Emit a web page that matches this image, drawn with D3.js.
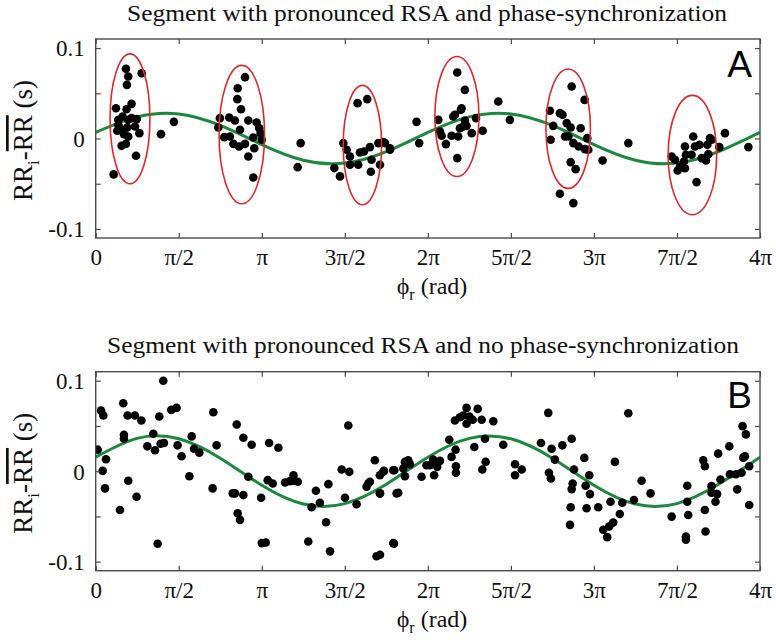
<!DOCTYPE html>
<html>
<head>
<meta charset="utf-8">
<script src="https://cdn.jsdelivr.net/npm/d3@7/dist/d3.min.js"></script>
<style>
  html, body { margin: 0; padding: 0; background: #fff; }
  svg { display: block; }
</style>
</head>
<body>
<svg id="chart" width="776" height="640"></svg>
<script>
// ---------- data (phase in units of pi, RR deviation in s) ----------
const titles = ["Segment with pronounced RSA and phase-synchronization",
                "Segment with pronounced RSA and no phase-synchronization"];
const panelLetters = ["A", "B"];
const xTickValues = [0, 0.5, 1, 1.5, 2, 2.5, 3, 3.5, 4];
const xTickLabels = ["0", "\u03c0/2", "\u03c0", "3\u03c0/2", "2\u03c0", "5\u03c0/2", "3\u03c0", "7\u03c0/2", "4\u03c0"];
const yTickValues = [-0.1, -0.05, 0, 0.05, 0.1];
const yTickLabels = ["-0.1", "", "0", "", "0.1"];

const phaseA = [0.108,0.122,0.182,0.196,0.188,0.277,0.136,0.162,0.186,0.216,0.130,0.146,0.196,0.216,0.247,0.237,0.190,0.170,0.196,0.156,0.182,0.263,0.243,0.136,0.393,0.471,
  0.738,0.748,0.804,0.838,0.855,0.853,0.875,0.899,0.919,0.969,0.985,0.993,0.949,0.899,0.863,0.829,0.808,0.774,0.919,0.949,0.955,1.000,0.869,1.216,1.234,
  1.437,1.471,1.491,1.511,1.531,1.531,1.581,1.577,1.635,1.591,1.615,1.651,1.661,1.657,1.702,1.712,1.742,1.772,1.732,1.772,1.932,1.948,
  2.063,2.073,2.083,2.109,2.143,2.153,2.163,2.177,2.177,2.183,2.193,2.199,2.203,2.213,2.223,2.223,2.233,2.264,2.290,2.330,2.424,2.494,
  2.735,2.739,2.755,2.795,2.811,2.836,2.826,2.846,2.860,2.866,2.876,2.920,2.944,2.960,2.908,2.946,2.966,2.860,2.890,2.795,2.876,3.052,3.207,
  3.468,3.488,3.504,3.518,3.542,3.548,3.554,3.588,3.598,3.608,3.618,3.635,3.649,3.675,3.683,3.689,3.699,3.709,3.755,3.789,3.930,3.548];
const rrA = [-0.0397,0.0335,0.0771,0.0685,0.0593,0.0722,0.0207,0.0243,0.0324,0.0383,0.0085,0.0115,0.0207,0.0225,0.0214,0.0133,0.0122,0.0048,0.0022,-0.0081,-0.0059,0.0059,-0.0191,0.0151,0.0048,0.0184,
  0.0122,0.0225,0.0232,0.0199,0.0556,0.0435,0.0324,0.0678,0.0199,0.0177,0.0114,0.0059,0.0011,-0.0059,-0.0088,-0.0059,0.0022,0.0015,-0.0199,-0.0431,-0.0107,-0.0014,0.0096,-0.0317,-0.0051,
  -0.0327,-0.0419,-0.0051,-0.0125,-0.0199,-0.0291,-0.0291,0.0391,0.0435,-0.0155,-0.0143,-0.0095,-0.0235,-0.0368,-0.0051,-0.0291,-0.0051,-0.0107,-0.0040,-0.0125,0.0184,-0.0051,
  0.0206,0.0078,0.0030,-0.0062,0.0030,0.0243,0.0262,0.0729,-0.0217,0.0022,0.0114,0.0317,0.0335,0.0133,0.0538,0.0199,0.0140,0.0059,0.0225,0.0085,0.0409,0.0206,
  0.0306,-0.0014,0.0140,0.0280,0.0262,0.0170,0.0022,0.0022,0.0122,0.0575,-0.0051,0.0114,0.0427,0.0004,-0.0088,-0.0118,-0.0125,-0.0261,-0.0339,-0.0611,-0.0714,-0.0243,-0.0051,
  -0.0199,-0.0235,-0.0353,-0.0309,-0.0254,-0.0088,-0.0180,-0.0180,0.0022,-0.0088,-0.0482,-0.0070,-0.0217,-0.0243,-0.0070,-0.0173,0.0004,-0.0014,-0.0095,0.0059,-0.0095,-0.0328];

const phaseB = [0.012,0.032,0.046,0.042,0.062,0.056,0.146,0.166,0.170,0.170,0.192,0.196,0.236,0.246,0.275,0.311,0.347,0.357,0.373,0.383,0.391,0.407,0.411,0.455,0.487,0.493,0.517,0.564,0.578,0.592,0.624,
  0.708,0.728,0.704,0.825,0.839,0.849,0.855,0.869,0.889,0.889,0.919,0.939,0.996,1.000,1.024,1.036,1.044,1.066,1.100,1.140,1.170,1.191,1.191,1.217,1.280,1.300,1.326,1.350,1.387,1.401,1.411,
  1.481,1.501,1.521,1.527,1.571,1.631,1.641,1.651,1.681,1.691,1.711,1.711,1.731,1.792,1.792,1.812,
  1.712,1.712,1.736,1.798,1.796,1.822,1.852,1.862,1.862,1.882,1.892,1.962,1.992,2.012,2.032,2.038,2.056,2.073,2.129,2.143,2.163,2.167,2.169,2.169,2.193,2.213,2.233,2.233,2.250,2.270,2.280,2.300,2.324,2.328,2.344,2.348,2.394,2.454,
  2.525,2.525,2.565,2.681,2.725,2.729,2.741,2.745,2.765,2.810,2.856,2.860,2.866,2.872,2.866,2.880,2.942,2.950,2.956,2.972,2.976,3.026,3.056,3.080,3.092,3.100,3.116,3.126,3.156,3.171,3.207,3.241,3.287,3.341,
  3.468,3.554,3.554,3.562,3.562,3.568,3.658,3.668,3.668,3.672,3.708,3.708,3.732,3.742,3.748,3.762,3.815,3.819,3.855,3.863,3.889,3.895,3.899,3.909,3.915,3.935,3.935];
const rrB = [0.0238,0.0670,0.0615,0.0004,0.0132,-0.0190,-0.0429,0.0751,0.0403,0.0359,0.0615,-0.0106,0.0615,-0.0282,0.0560,0.0275,0.0414,0.0231,-0.0802,0.0604,0.0304,0.1000,0.0311,0.0678,0.0700,0.0286,0.0165,-0.0055,0.0385,0.0249,0.0205,
  0.0652,0.0286,-0.0190,-0.0245,-0.0245,0.0516,-0.0465,-0.0538,0.0370,-0.0264,-0.0062,0.0293,-0.0293,-0.0795,-0.0788,-0.0099,0.0311,-0.0136,0.0260,-0.0125,-0.0110,-0.0044,-0.0106,-0.0117,-0.0777,-0.0399,-0.0216,-0.0348,-0.0564,-0.0143,-0.0886,
  0.0018,-0.0293,0.0505,-0.0007,-0.0366,-0.0172,-0.0136,-0.0117,0.0121,-0.0941,-0.0245,-0.0044,-0.0007,0.0011,-0.0795,-0.0245,
  -0.0245,-0.0923,0.0004,0.0011,-0.0802,-0.0238,0.0029,-0.0055,0.0103,0.0121,0.0077,-0.0062,0.0066,0.0066,0.0128,-0.0044,0.0048,0.0114,0.0348,0.0158,0.0560,0.0238,0.0055,-0.0018,0.0597,0.0615,0.0700,0.0524,0.0604,0.0568,0.0267,0.0689,0.0568,0.0018,0.0359,0.0103,0.0553,0.0293,
  0.0077,-0.0044,0.0018,0.0311,0.0645,-0.0018,-0.0081,0.0249,0.0128,0.0286,-0.0593,-0.0399,0.0359,-0.0136,-0.0198,0.0018,0.0147,-0.0161,-0.0410,-0.0044,-0.0253,-0.0399,-0.0648,-0.0729,-0.0612,-0.0337,-0.0568,0.0103,-0.0473,-0.0348,0.0641,-0.0319,-0.0106,-0.0245,
  -0.0502,-0.0722,-0.0758,-0.0161,-0.0337,-0.0484,0.0121,0.0055,-0.0429,-0.0667,-0.0165,-0.0238,-0.0337,-0.0253,0.0194,-0.0092,0.0275,-0.0033,-0.0033,-0.0201,-0.0018,0.0498,0.0150,0.0165,0.0407,0.0055,-0.0374];

// fitted curves read at steps of pi/4
const fitPhase = [0,0.25,0.5,0.75,1,1.25,1.5,1.75,2,2.25,2.5,2.75,3,3.25,3.5,3.75,4];
const fitA = [0.0067,0.0239,0.0272,0.0145,-0.0067,-0.0240,-0.0272,-0.0145,0.0067,0.0239,0.0272,0.0145,-0.0067,-0.0240,-0.0272,-0.0145,0.0067];
const fitB = [0.0155,0.0363,0.0358,0.0144,-0.0155,-0.0363,-0.0358,-0.0144,0.0155,0.0363,0.0358,0.0144,-0.0155,-0.0363,-0.0358,-0.0144,0.0155];

// synchronization ellipses in panel A (centre phase/pi, centre RR, half-width phase/pi, half-height RR)
const ellCx = [0.2065, 0.8796, 1.606, 2.175, 2.845, 3.593];
const ellCy = [0.0218, 0.0043, -0.0073, 0.0243, 0.0109, -0.0183];
const ellRx = [0.120, 0.137, 0.1156, 0.1325, 0.134, 0.146];
const ellRy = [0.0718, 0.0765, 0.066, 0.0663, 0.066, 0.066];

// ---------- drawing ----------
const svg = d3.select("#chart");
const PI = Math.PI;
const SERIF = '"Liberation Serif", "Times New Roman", Times, serif';
const SANS = '"Liberation Sans", Arial, sans-serif';
const left = 95.7, right = 760;
const panels = [
  {top: 39, bottom: 238, phase: phaseA, rr: rrA, fit: fitA, ellipses: true, titleX: 427, titleW: 600},
  {top: 371.7, bottom: 570.7, phase: phaseB, rr: rrB, fit: fitB, ellipses: false, titleX: 423, titleW: 632}
];
const green = "#1b8a3e", red = "#e02a2a", frameCol = "#4a4a4a", ink = "#111";

panels.forEach((p, i) => {
  const x = d3.scaleLinear().domain([0, 4 * PI]).range([left, right]);
  const y = d3.scaleLinear().domain([-0.11, 0.11]).range([p.bottom, p.top]);
  const g = svg.append("g");

  // title
  g.append("text").attr("x", p.titleX).attr("y", p.top - 18.5)
    .attr("text-anchor", "middle").style("font-family", SERIF).style("font-size", "23px")
    .attr("textLength", p.titleW).attr("lengthAdjust", "spacingAndGlyphs")
    .attr("fill", ink).text(titles[i]);

  const clipId = "clip" + i;
  svg.append("clipPath").attr("id", clipId).append("rect")
    .attr("x", left).attr("y", p.top).attr("width", right - left).attr("height", p.bottom - p.top);
  const plot = g.append("g").attr("clip-path", `url(#${clipId})`);

  // fitted curve
  const line = d3.line().x((d, k) => x(fitPhase[k] * PI)).y(d => y(d)).curve(d3.curveNatural);
  plot.append("path").datum(p.fit).attr("d", line)
    .attr("fill", "none").attr("stroke", green).attr("stroke-width", 3);

  // points
  plot.selectAll("circle.pt").data(p.phase).enter().append("circle").attr("class", "pt")
    .attr("cx", d => x(d * PI)).attr("cy", (d, k) => y(p.rr[k])).attr("r", 4.3).attr("fill", "#000");

  // ellipses
  if (p.ellipses) {
    plot.selectAll("ellipse").data(ellCx).enter().append("ellipse")
      .attr("cx", d => x(d * PI))
      .attr("cy", (d, k) => y(ellCy[k]))
      .attr("rx", (d, k) => x((d + ellRx[k]) * PI) - x(d * PI))
      .attr("ry", (d, k) => y(ellCy[k] - ellRy[k]) - y(ellCy[k]))
      .attr("fill", "none").attr("stroke", red).attr("stroke-width", 1.6);
  }

  // axes with inward ticks
  const xv = xTickValues.map(v => v * PI);
  const bottomAx = d3.axisBottom(x).tickValues(xv).tickSizeInner(-5).tickSizeOuter(0)
    .tickFormat((d, k) => xTickLabels[k]);
  const ga = g.append("g").attr("transform", `translate(0,${p.bottom})`).call(bottomAx);
  ga.selectAll("text").attr("y", 27).attr("dy", null);
  const topAx = d3.axisTop(x).tickValues(xv).tickSizeInner(-5).tickSizeOuter(0).tickFormat("");
  g.append("g").attr("transform", `translate(0,${p.top})`).call(topAx);
  const leftAx = d3.axisLeft(y).tickValues(yTickValues).tickSizeInner(-5).tickSizeOuter(0)
    .tickFormat((d, k) => yTickLabels[k]);
  const gl = g.append("g").attr("transform", `translate(${left},0)`).call(leftAx);
  gl.selectAll("text").attr("x", -11).attr("dy", "0.34em");
  const rightAx = d3.axisRight(y).tickValues(yTickValues).tickSizeInner(-5).tickSizeOuter(0).tickFormat("");
  g.append("g").attr("transform", `translate(${right},0)`).call(rightAx);
  g.selectAll(".domain").remove();
  g.selectAll(".tick line").attr("stroke", frameCol).attr("stroke-width", 1.2);
  g.selectAll(".tick text").style("font-family", SERIF).style("font-size", "23px").attr("fill", ink);

  // frame
  g.append("rect").attr("x", left).attr("y", p.top).attr("width", right - left).attr("height", p.bottom - p.top)
    .attr("fill", "none").attr("stroke", frameCol).attr("stroke-width", 1.4);

  // panel letter
  g.append("text").attr("x", 752).attr("y", p.top + (i === 0 ? 38 : 36)).attr("text-anchor", "end")
    .style("font-family", SANS).style("font-size", "37px").attr("fill", "#000").text(panelLetters[i]);

  // x label
  const xl = g.append("text").attr("x", 432).attr("y", p.bottom + 56).attr("text-anchor", "middle")
    .style("font-family", SERIF).style("font-size", "24px").attr("fill", ink);
  xl.append("tspan").text("\u03d5");
  xl.append("tspan").attr("dy", 6).style("font-size", "16px").text("r");
  xl.append("tspan").attr("dy", -6).text(" (rad)");

  // y label
  const yl = g.append("text").attr("transform", `translate(32,${(p.top + p.bottom) / 2 + 2}) rotate(-90)`)
    .attr("text-anchor", "middle").style("font-family", SERIF).style("font-size", "27px").attr("fill", ink);
  yl.append("tspan").text("RR");
  yl.append("tspan").attr("dy", 7).style("font-size", "17px").text("i");
  yl.append("tspan").attr("dy", -7).text("-");
  yl.append("tspan").style("text-decoration", "overline").text("RR");
  yl.append("tspan").text(" (s)");
});
</script>
</body>
</html>
